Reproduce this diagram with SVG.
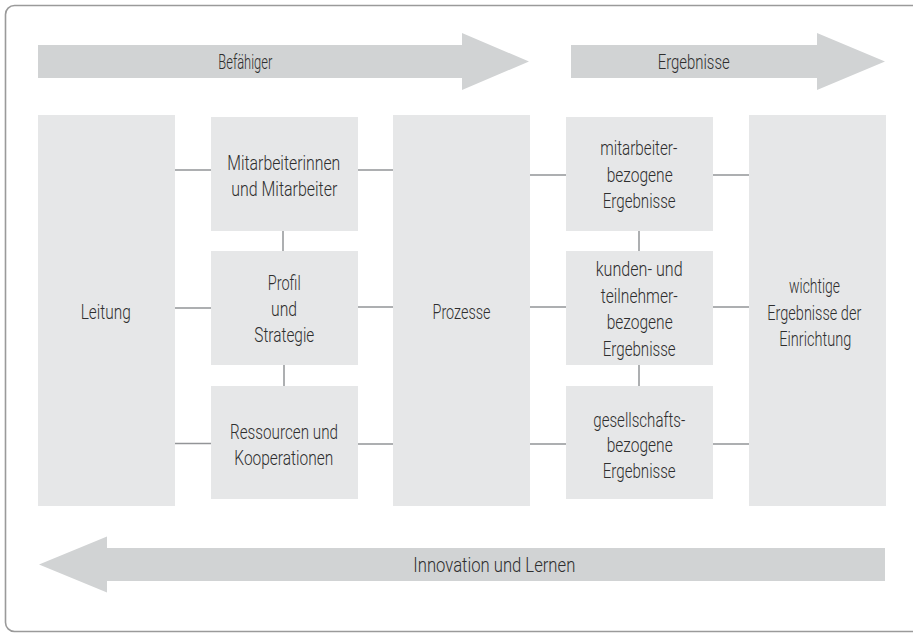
<svg xmlns="http://www.w3.org/2000/svg" width="913" height="635" viewBox="0 0 913 635">
<style>
.frame{fill:#ffffff;stroke:#9a9a9a;stroke-width:1.6}
.arrow{fill:#d1d3d4}
.box{fill:#e6e7e8}
.conn{stroke:#939598;stroke-width:1.5;fill:none}
text{font-family:Roboto,"Liberation Sans",sans-serif;font-weight:300;font-size:20.5px;fill:#2e2e2e}
</style>
<rect class="frame" x="5.5" y="5.5" width="930" height="626" rx="9"/>
<g id="arrow-befaehiger">
<polygon class="arrow" points="38,45 462,45 462,33 529,61.5 462,90 462,78 38,78"/>
<text x="218.3" y="69" textLength="54" lengthAdjust="spacingAndGlyphs">Befähiger</text>
</g>
<g id="arrow-ergebnisse">
<polygon class="arrow" points="571,45 817,45 817,33 885,61.5 817,90 817,78 571,78"/>
<text x="657.7" y="69" textLength="72" lengthAdjust="spacingAndGlyphs">Ergebnisse</text>
</g>
<g id="arrow-innovation">
<polygon class="arrow" points="885,548 107,548 107,536.5 39,564.5 107,592.5 107,581 885,581"/>
<text x="413.3" y="572" textLength="162" lengthAdjust="spacingAndGlyphs">Innovation und Lernen</text>
</g>
<g id="connectors">
<path class="conn" d="M175 170H211M358 170H393M175 308H211M358 307H393M175 443.5H211M358 444H393"/>
<path class="conn" d="M530 175H566M713 175H749M530 307H566M713 307H749M530 444H566M713 444H749"/>
<path class="conn" d="M283 231V251M284 365V386M639 231V251M639 365V386"/>
</g>
<g id="leitung">
<rect class="box" x="38" y="115" width="137" height="391"/>
<text x="80.7" y="319" textLength="50" lengthAdjust="spacingAndGlyphs">Leitung</text>
</g>
<g id="mitarbeiterinnen">
<rect class="box" x="211" y="117" width="147" height="114"/>
<text x="227.3" y="169.5" textLength="113" lengthAdjust="spacingAndGlyphs">Mitarbeiterinnen</text>
<text x="231.3" y="195.5" textLength="106" lengthAdjust="spacingAndGlyphs">und Mitarbeiter</text>
</g>
<g id="profil">
<rect class="box" x="211" y="251" width="147" height="114"/>
<text x="267.7" y="290" textLength="33" lengthAdjust="spacingAndGlyphs">Profil</text>
<text x="271" y="316" textLength="26" lengthAdjust="spacingAndGlyphs">und</text>
<text x="254.3" y="342" textLength="60" lengthAdjust="spacingAndGlyphs">Strategie</text>
</g>
<g id="ressourcen">
<rect class="box" x="211" y="386" width="147" height="113"/>
<text x="230" y="439.3" textLength="108" lengthAdjust="spacingAndGlyphs">Ressourcen und</text>
<text x="234.3" y="465" textLength="99" lengthAdjust="spacingAndGlyphs">Kooperationen</text>
</g>
<g id="prozesse">
<rect class="box" x="393" y="115" width="137" height="391"/>
<text x="432.5" y="319" textLength="58" lengthAdjust="spacingAndGlyphs">Prozesse</text>
</g>
<g id="mitarbeiterbezogen">
<rect class="box" x="566" y="117" width="147" height="114"/>
<text x="600.3" y="155" textLength="77" lengthAdjust="spacingAndGlyphs">mitarbeiter-</text>
<text x="606.7" y="181.5" textLength="66" lengthAdjust="spacingAndGlyphs">bezogene</text>
<text x="602.7" y="208" textLength="73" lengthAdjust="spacingAndGlyphs">Ergebnisse</text>
</g>
<g id="kundenbezogen">
<rect class="box" x="566" y="251" width="147" height="114"/>
<text x="595.7" y="276" textLength="87" lengthAdjust="spacingAndGlyphs">kunden- und</text>
<text x="600.7" y="302.7" textLength="77" lengthAdjust="spacingAndGlyphs">teilnehmer-</text>
<text x="606.7" y="329.3" textLength="66" lengthAdjust="spacingAndGlyphs">bezogene</text>
<text x="602.7" y="356" textLength="73" lengthAdjust="spacingAndGlyphs">Ergebnisse</text>
</g>
<g id="gesellschaftsbezogen">
<rect class="box" x="566" y="386" width="147" height="113"/>
<text x="593.3" y="426.7" textLength="92" lengthAdjust="spacingAndGlyphs">gesellschafts-</text>
<text x="606.7" y="452.3" textLength="66" lengthAdjust="spacingAndGlyphs">bezogene</text>
<text x="602.7" y="477.7" textLength="73" lengthAdjust="spacingAndGlyphs">Ergebnisse</text>
</g>
<g id="wichtige">
<rect class="box" x="749" y="115" width="137" height="391"/>
<text x="789" y="293" textLength="51" lengthAdjust="spacingAndGlyphs">wichtige</text>
<text x="767.3" y="319.5" textLength="94" lengthAdjust="spacingAndGlyphs">Ergebnisse der</text>
<text x="779.3" y="346" textLength="72" lengthAdjust="spacingAndGlyphs">Einrichtung</text>
</g>
</svg>
